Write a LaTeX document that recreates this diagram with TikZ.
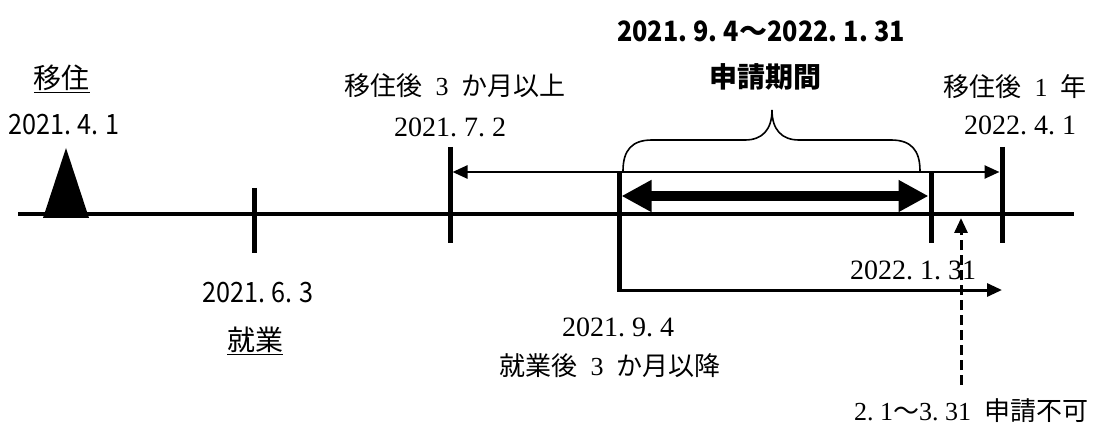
\documentclass[tikz,border=0pt]{standalone}
\usepackage{fontspec}
\setmainfont{Liberation Serif}
\newfontfamily\jpf{Noto Sans CJK JP}
\newfontfamily\gothf[FakeStretch=0.9]{Noto Sans CJK JP}
\usetikzlibrary{arrows.meta}
\newcommand\Dt{.\hspace{0.25em}}
\newcommand\Gd{.\hspace{0.22em}}
\tikzset{
  serif/.style={inner sep=0pt, font=\fontsize{26}{30}\selectfont},
  serifnum/.style={inner sep=0pt, font=\fontsize{28}{32}\selectfont},
  goth/.style={inner sep=0pt, font=\gothf\fontsize{28}{32}\selectfont},
  gothb/.style={inner sep=0pt, font=\gothf\bfseries\fontsize{28}{32}\selectfont},
  gothj/.style={inner sep=0pt, font=\jpf\fontsize{28}{32}\selectfont},
  gothjb/.style={inner sep=0pt, font=\jpf\bfseries\fontsize{28}{32}\selectfont},
  tickline/.style={line width=5pt},
  axisline/.style={line width=4pt},
  thinarrow/.style={line width=2.5pt},
  bracel/.style={line width=1.6pt},
  >={Triangle[length=15pt,width=13pt]},
  bigtip/.tip={Triangle[length=30pt,width=30pt]}
}
\begin{document}
\begin{tikzpicture}[x=1pt,y=-1pt]
\useasboundingbox (0,0) rectangle (1096,425);
% axis
\coordinate (axL) at (18,214);
\coordinate (axR) at (1074,214);
\draw[axisline] (axL) -- (axR);
% triangle
\coordinate (triT) at (66,148);
\coordinate (triL) at (43,218);
\coordinate (triR) at (89,218);
\fill (triT) -- (triL) -- (triR) -- cycle;
% ticks
\coordinate (aT) at (254,188); \coordinate (aB) at (254,253);
\coordinate (bT) at (450,147); \coordinate (bB) at (450,243);
\coordinate (cT) at (619,172); \coordinate (cB) at (619,291.5);
\coordinate (dT) at (931,172); \coordinate (dB) at (931,243);
\coordinate (eT) at (1002,147); \coordinate (eB) at (1002,243);
\draw[tickline] (aT) -- (aB);
\draw[tickline] (bT) -- (bB);
\draw[tickline] (cT) -- (cB);
\draw[tickline] (dT) -- (dB);
\draw[tickline] (eT) -- (eB);
% thin arrow 3 months after moving -> 1 year
\coordinate (thL) at (452.5,172);
\coordinate (thR) at (999.5,172);
\draw[thinarrow,<->] (thL) -- (thR);
% thick application period arrow
\coordinate (pL) at (621.5,196);
\coordinate (pR) at (928.5,196);
\draw[line width=10pt,{bigtip}-{bigtip}] (pL) -- (pR);
% bottom arrow
\coordinate (bhL) at (619,290);
\coordinate (bhR) at (1002,290);
\draw[line width=3pt,->] (bhL) -- (bhR);
% dashed arrow
\coordinate (dsB) at (961,385);
\coordinate (dsT) at (961,218);
\draw[line width=3pt,dash pattern=on 10pt off 5pt,->] (dsB) -- (dsT);
% brace
\coordinate (brL) at (623,171);
\coordinate (brT) at (772,110);
\coordinate (brR) at (920,171);
\draw[bracel] (brL) .. controls (623,150) and (632,140) .. (652,140) -- (745,140)
  .. controls (762,140) and (772,130) .. (brT)
  .. controls (772,130) and (782,140) .. (799,140) -- (891,140)
  .. controls (911,140) and (920,150) .. (brR);
% labels
\node[gothj] (iju) at (62,79) {\underline{移住}};
\node[goth] (d0401) at (64,125) {2021\Gd 4\Gd 1};
\node[serif] (lab3m) at (455,86) {{\jpf 移住後}\enspace 3\enspace{\jpf か月以上}};
\node[serifnum] (d0702) at (450,127) {2021\Dt 7\Dt 2};
\node[gothb] (period) at (761,31) {2021\Gd 9\Gd 4{\jpf\bfseries ～}2022\Gd 1\Gd 31};
\node[gothjb] (shinsei) at (765,77) {申請期間};
\node[serif] (lab1y) at (1015,87) {{\jpf 移住後}\enspace 1\enspace{\jpf 年}};
\node[serifnum] (d0401b) at (1020,125) {2022\Dt 4\Dt 1};
\node[serifnum] (d0131) at (913,270) {2022\Dt 1\Dt 31};
\node[goth] (d0603) at (258,293) {2021\Gd 6\Gd 3};
\node[gothj] (shugyo) at (255,341) {\underline{就業}};
\node[serifnum] (d0904) at (618,327) {2021\Dt 9\Dt 4};
\node[serif] (lab3mb) at (610,366) {{\jpf 就業後}\enspace 3\enspace{\jpf か月以降}};
\node[serif] (fuka) at (971,411) {2\Dt 1{\jpf ～}3\Dt 31\enspace{\jpf 申請不可}};
\end{tikzpicture}
\end{document}
